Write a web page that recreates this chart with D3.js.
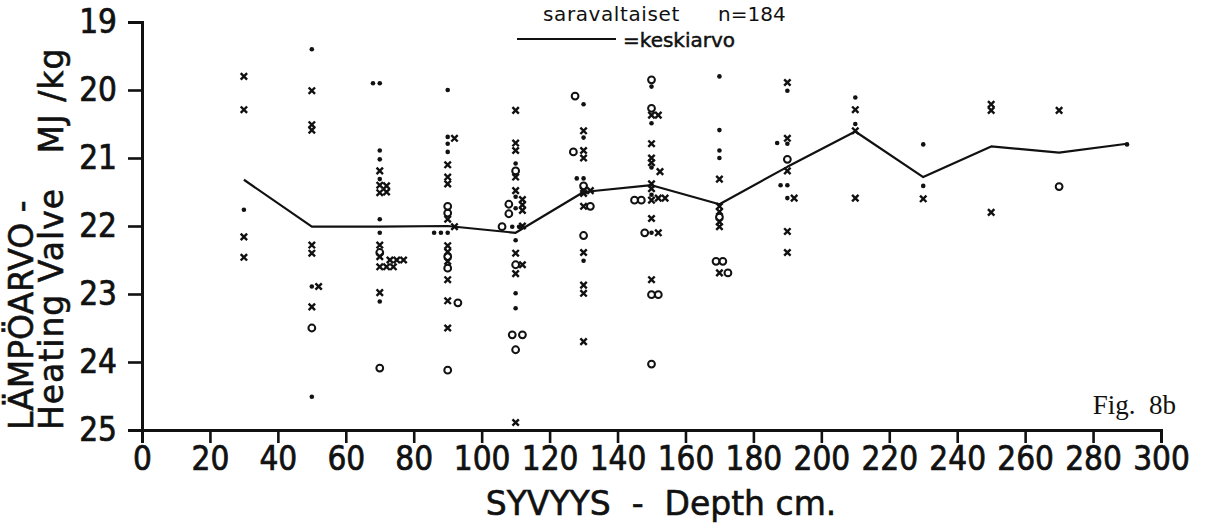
<!DOCTYPE html>
<html>
<head>
<meta charset="utf-8">
<script src="https://cdn.jsdelivr.net/npm/d3@7"></script>
<style>
  html, body { margin: 0; padding: 0; background: #fff; }
  svg { display: block; }
  .tick text { font-family: "DejaVu Sans Condensed", "DejaVu Sans", sans-serif; font-size: 33px; fill: #111; stroke: #111; stroke-width: 0.7px; }
  .title { font-family: "DejaVu Sans", sans-serif; font-size: 33px; fill: #111; stroke: #111; stroke-width: 0.6px; white-space: pre; }
</style>
</head>
<body>
<svg id="chart" width="1205" height="528"></svg>
<script>
// ---------- data ----------
const xTicks = [0,20,40,60,80,100,120,140,160,180,200,220,240,260,280,300];
const yTicks = [19,20,21,22,23,24,25];

const meanDepths = [30,50,70,90,110,130,150,170,190,210,230,250,270,290];
const meanValues = [21.32,22.01,22.01,22.0,22.1,21.5,21.4,21.68,21.13,20.61,21.28,20.83,20.92,20.79];

// crosses: [depth, value]
const crossPoints = [
  [30,19.80],[30,20.29],[30,22.16],[30,22.46],
  [50,20.01],[50,20.51],[50,20.59],[50,22.28],[50,22.40],[52,22.89],[50,23.19],
  [70,21.19],[70,21.40],[70,21.51],[72,21.41],[72,21.50],[70,22.28],[70,22.45],[70,22.60],[72,22.60],[74,22.60],[73,22.50],[75,22.50],[77,22.50],[70,22.98],
  [92,20.71],[90,21.10],[90,21.28],[90,21.38],[90,21.90],[92,22.01],[90,22.29],[90,22.38],[90,22.52],[90,22.79],[90,23.10],[90,23.50],
  [110,20.30],[110,20.78],[110,20.89],[110,21.28],[110,21.48],[112,21.61],[112,21.69],[112,21.77],[112,22.0],[110,22.40],[112,22.57],[110,22.70],[110,24.89],
  [130,20.60],[130,20.89],[130,21.0],[130,21.48],[132,21.48],[130,21.52],[130,21.71],[130,22.39],[130,22.87],[130,22.99],[130,23.70],
  [150,20.37],[152,20.37],[150,20.79],[150,21.0],[150,21.07],[152.5,21.2],[150,21.38],[150,21.45],[150,21.62],[152,21.59],[154,21.59],[150,21.89],[152,22.1],[150,22.79],
  [170,21.31],[170,21.71],[170,21.79],[170,21.94],[170,22.01],[170,22.69],
  [190,19.89],[190,20.71],[190,21.19],[192,21.59],[190,22.08],[190,22.39],
  [210,20.29],[210,20.60],[210,21.59],
  [230,21.60],
  [250,20.21],[250,20.30],[250,21.80],
  [270,20.30]
];

// small dots: [depth, value]
const dotPoints = [
  [30,21.76],
  [50,19.40],[50,22.89],[50,24.51],
  [68,19.90],[70,19.90],[70,20.89],[70,21.02],[70,21.31],[70,21.90],[70,22.10],[70,23.11],
  [90,20.0],[90,20.69],[90,20.79],[90,20.91],[86,22.1],[88,22.1],[90,22.1],
  [110,21.08],[110,21.57],[110,21.74],[109,22.01],[111,22.01],[110,22.21],[110,22.99],[110,23.21],
  [130,20.21],[130,20.70],[128,21.30],[130,21.30],[130,22.51],
  [150,19.95],[150,20.49],[150,21.14],[150,21.54],[150,22.1],
  [170,19.80],[170,20.59],[170,20.89],[170,21.0],
  [190,20.01],[187,20.78],[190,20.79],[188,21.4],[190,21.4],[190,21.59],
  [210,20.11],[210,20.5],
  [230,20.8],[230,21.41],
  [290,20.8]
];

// open circles: [depth, value]
const circlePoints = [
  [50,23.5],
  [70,22.39],[70,24.09],
  [90,21.71],[90,21.81],[90,22.45],[90,22.62],[93,23.13],[90,24.12],
  [110,21.19],[108,21.68],[108,21.82],[106,22.01],[110,22.57],[109,23.60],[112,23.60],[110,23.82],
  [127.5,20.09],[127,20.91],[130,21.41],[132,21.71],[130,22.14],
  [150,19.85],[150,20.27],[145,21.62],[147,21.62],[148,22.1],[150,23.01],[152,23.01],[150,24.03],
  [170,21.87],[169,22.52],[171,22.52],[172.5,22.69],
  [190,21.02],
  [270,21.42]
];

// ---------- layout ----------
const svg = d3.select("#chart");
const ink = "#111";
const x = d3.scaleLinear().domain([0,300]).range([142,1161]);
const y = d3.scaleLinear().domain([19,25]).range([22,430]);

// axes
const xAxis = svg.append("g").attr("transform", `translate(0,${y(25)})`)
  .call(d3.axisBottom(x).tickValues(xTicks).tickFormat(d3.format("d")).tickSize(13).tickPadding(4));
const yAxis = svg.append("g").attr("transform", `translate(${x(0)},0)`)
  .call(d3.axisLeft(y).tickValues(yTicks).tickFormat(d3.format("d")).tickSize(14).tickPadding(11));
xAxis.select(".domain").attr("stroke", ink).attr("stroke-width", 3);
yAxis.select(".domain").attr("stroke", ink).attr("stroke-width", 3);
svg.selectAll(".tick line").attr("stroke", ink).attr("stroke-width", 2.6);

// mean line
const line = d3.line().x((d,i) => x(meanDepths[i])).y(d => y(d));
svg.append("path").datum(meanValues)
  .attr("d", line).attr("fill", "none").attr("stroke", ink).attr("stroke-width", 2.2)
  .attr("stroke-linejoin", "round");

// dots
svg.append("g").selectAll("circle").data(dotPoints).join("circle")
  .attr("cx", d => x(d[0])).attr("cy", d => y(d[1])).attr("r", 2.3).attr("fill", ink);

// circles
svg.append("g").selectAll("circle").data(circlePoints).join("circle")
  .attr("cx", d => x(d[0])).attr("cy", d => y(d[1])).attr("r", 3.4)
  .attr("fill", "none").attr("stroke", ink).attr("stroke-width", 2);

// crosses
const cs = 3.2;
svg.append("g").selectAll("path").data(crossPoints).join("path")
  .attr("transform", d => `translate(${x(d[0])},${y(d[1])})`)
  .attr("d", `M${-cs},${-cs}L${cs},${cs}M${-cs},${cs}L${cs},${-cs}`)
  .attr("stroke", ink).attr("stroke-width", 2.4).attr("fill", "none");

// axis titles
svg.append("text").attr("class", "title")
  .attr("x", 661).attr("y", 515).attr("text-anchor", "middle")
  .text("SYVYYS  -  Depth cm.");

svg.append("text").attr("class", "title")
  .attr("transform", "translate(33,430) rotate(-90)")
  .text("LÄMPÖARVO -");
svg.append("text").attr("class", "title")
  .attr("transform", "translate(63,430) rotate(-90)")
  .style("letter-spacing", "1px")
  .text("Heating Valve   MJ /kg");

// legend
svg.append("text").attr("x", 543).attr("y", 21)
  .style("font-family", "DejaVu Sans, sans-serif").style("font-size", "20px").style("letter-spacing", "0.6px")
  .attr("fill", ink).text("saravaltaiset");
svg.append("text").attr("x", 718).attr("y", 21)
  .style("font-family", "DejaVu Sans, sans-serif").style("font-size", "20px")
  .attr("fill", ink).text("n=184");
svg.append("line").attr("x1", 517).attr("x2", 616).attr("y1", 39).attr("y2", 39)
  .attr("stroke", ink).attr("stroke-width", 2);
svg.append("text").attr("x", 623).attr("y", 47)
  .style("font-family", "DejaVu Sans, sans-serif").style("font-size", "20px")
  .attr("fill", ink).attr("stroke", ink).attr("stroke-width", 0.5).text("=keskiarvo");

// figure label
svg.append("text").attr("x", 1176).attr("y", 414).attr("text-anchor", "end")
  .style("font-family", "Liberation Serif, serif").style("font-size", "27px").style("white-space", "pre")
  .attr("fill", ink).text("Fig.  8b");
</script>
</body>
</html>
